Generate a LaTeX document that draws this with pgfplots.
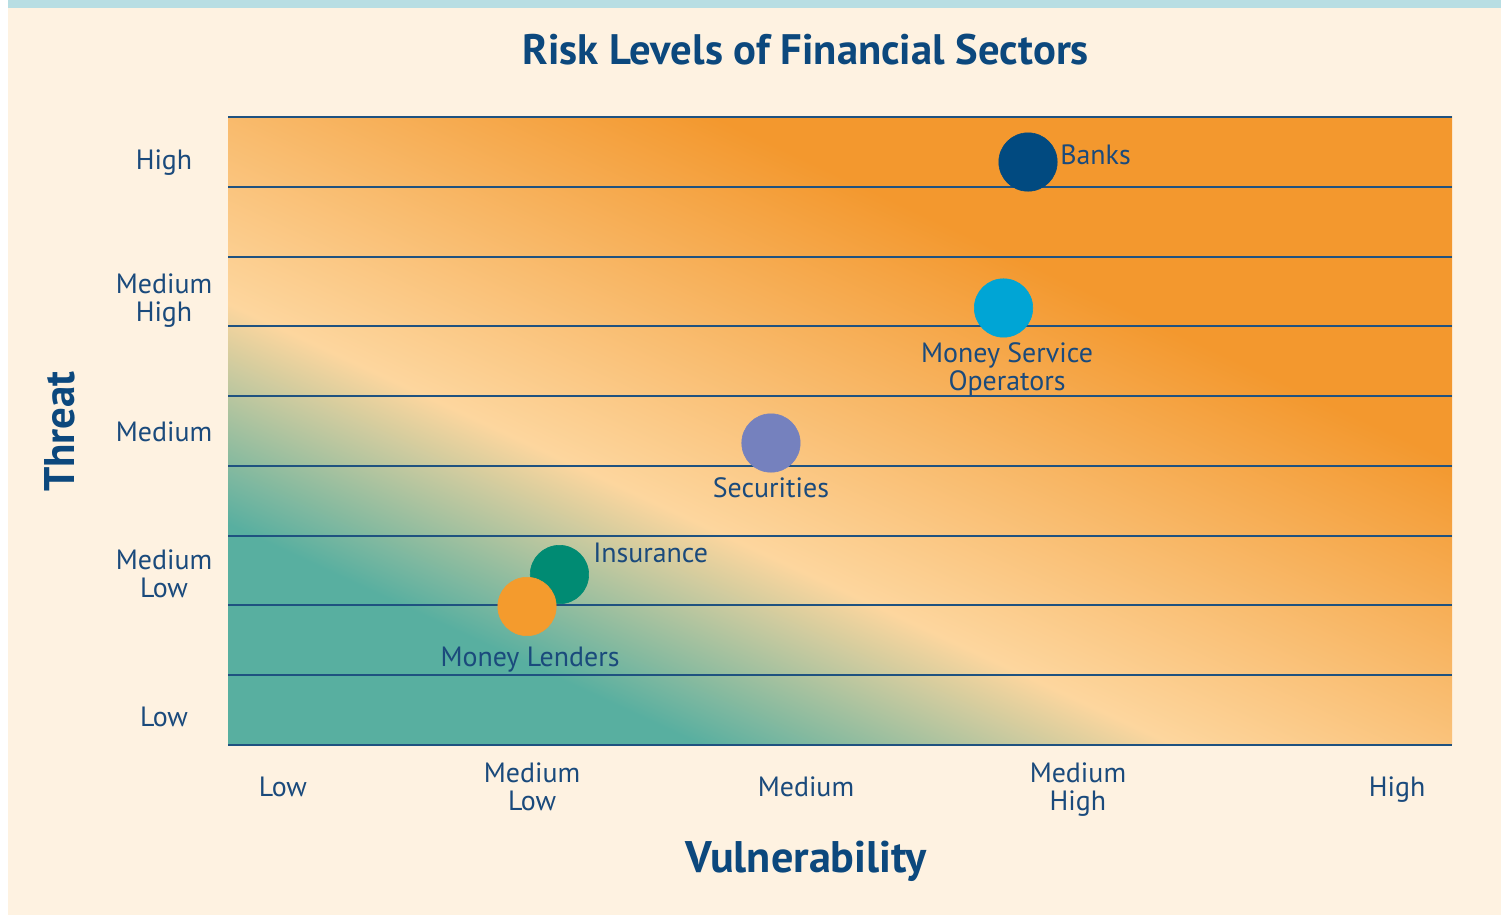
\documentclass[border=0pt]{standalone}
\usepackage{fontspec}
\setmainfont{PT Sans}
\usepackage{pgfplots}
\pgfplotsset{compat=1.18}

\definecolor{cream}{RGB}{254,242,225}
\definecolor{topblue}{RGB}{184,222,227}
\definecolor{rteal}{RGB}{88,175,160}
\definecolor{rpeach}{RGB}{253,214,158}
\definecolor{rorange}{RGB}{243,152,46}
\definecolor{gridblue}{RGB}{31,82,128}
\definecolor{txtblue}{RGB}{26,74,124}
\definecolor{titleblue}{RGB}{12,72,125}
\definecolor{banks}{RGB}{1,74,128}
\definecolor{mso}{RGB}{0,165,213}
\definecolor{secur}{RGB}{117,129,190}
\definecolor{insur}{RGB}{0,139,115}
\definecolor{lender}{RGB}{244,155,45}

\pgfdeclarehorizontalshading{riskshade}{700bp}{color(0bp)=(rteal); color(110bp)=(rteal); color(210bp)=(rpeach); color(397.5bp)=(rorange); color(580bp)=(rorange)}

\begin{document}
\begin{tikzpicture}
\useasboundingbox (0,0) rectangle (750.5bp,457.5bp);
\fill[white] (0,0) rectangle (750.5bp,457.5bp);
\fill[cream] (4bp,0) rectangle (750.5bp,457.5bp);
\fill[topblue] (4bp,453.5bp) rectangle (750.5bp,457.5bp);
\begin{scope}
\clip (114bp,85bp) rectangle (726bp,399bp);
\node[overlay, inner sep=0pt, outer sep=0pt, anchor=south west, rotate=65] at (617.3bp,-160.7bp) {\pgfuseshading{riskshade}};
\end{scope}
\begin{axis}[
 at={(114bp,85bp)}, anchor=south west,
 scale only axis, width=612bp, height=314bp,
 xmin=0, xmax=10, ymin=0, ymax=9,
 clip=false,
 axis line style={draw=none},
 major tick length=0pt, minor tick length=0pt,
 xtick={0.449,2.484,4.722,6.944,9.551},
 xticklabels={Low,{Medium\\Low},Medium,{Medium\\High},High},
 ytick={0.408,2.458,4.485,6.413,8.384},
 yticklabels={Low,{Medium\\Low},Medium,{Medium\\High},High},
 minor ytick={0,1,...,9},
 yminorgrids=true,
 minor grid style={draw=gridblue, line width=1bp},
 ticklabel style={font=\fontsize{14}{14}\selectfont, text=txtblue, align=center, text depth=0pt, inner sep=0pt},
 xticklabel style={anchor=center, yshift=-21bp},
 yticklabel style={anchor=center, xshift=-32bp},
 title={Risk Levels of Financial Sectors},
 title style={at={(rel axis cs:0.472,1.0892)}, anchor=center, font=\fontsize{21.4}{26}\selectfont\bfseries, text=titleblue, inner sep=0pt, text depth=0pt},
 xlabel={Vulnerability},
 xlabel style={at={(rel axis cs:0.4726,-0.1783)}, anchor=center, font=\fontsize{22.2}{24}\selectfont\bfseries, text=titleblue, inner sep=0pt, text depth=0pt},
 ylabel={Threat},
 ylabel style={at={(rel axis cs:-0.1377,0.4992)}, anchor=center, font=\fontsize{21.5}{24}\selectfont\bfseries, text=titleblue, inner sep=0pt, text depth=0pt},
 every node near coord/.append style={font=\fontsize{14}{14}\selectfont, text=txtblue, inner sep=0pt, text depth=0pt, align=center},
]
% Banks
\addplot[only marks, mark=*, mark size=14.6bp, mark options={draw=banks, fill=banks, line width=0.3bp},
  nodes near coords={Banks},
  every node near coord/.append style={anchor=west, xshift=16bp, yshift=3.5bp}]
  coordinates {(6.536,8.355)};
% Money Service Operators
\addplot[only marks, mark=*, mark size=14.6bp, mark options={draw=mso, fill=mso, line width=0.3bp},
  nodes near coords={Money Service\\Operators},
  every node near coord/.append style={anchor=center, xshift=1.75bp, yshift=-29.25bp}]
  coordinates {(6.336,6.263)};
% Securities
\addplot[only marks, mark=*, mark size=14.6bp, mark options={draw=secur, fill=secur, line width=0.3bp},
  nodes near coords={Securities},
  every node near coord/.append style={anchor=center, yshift=-22.25bp}]
  coordinates {(4.436,4.328)};
% Insurance
\addplot[only marks, mark=*, mark size=14.6bp, mark options={draw=insur, fill=insur, line width=0.3bp},
  nodes near coords={Insurance},
  every node near coord/.append style={anchor=west, xshift=16.75bp, yshift=11bp}]
  coordinates {(2.708,2.443)};
% Money Lenders
\addplot[only marks, mark=*, mark size=14.6bp, mark options={draw=lender, fill=lender, line width=0.3bp},
  nodes near coords={Money Lenders},
  every node near coord/.append style={anchor=center, xshift=1.5bp, yshift=-25.25bp}]
  coordinates {(2.443,1.985)};
\end{axis}
\end{tikzpicture}
\end{document}
